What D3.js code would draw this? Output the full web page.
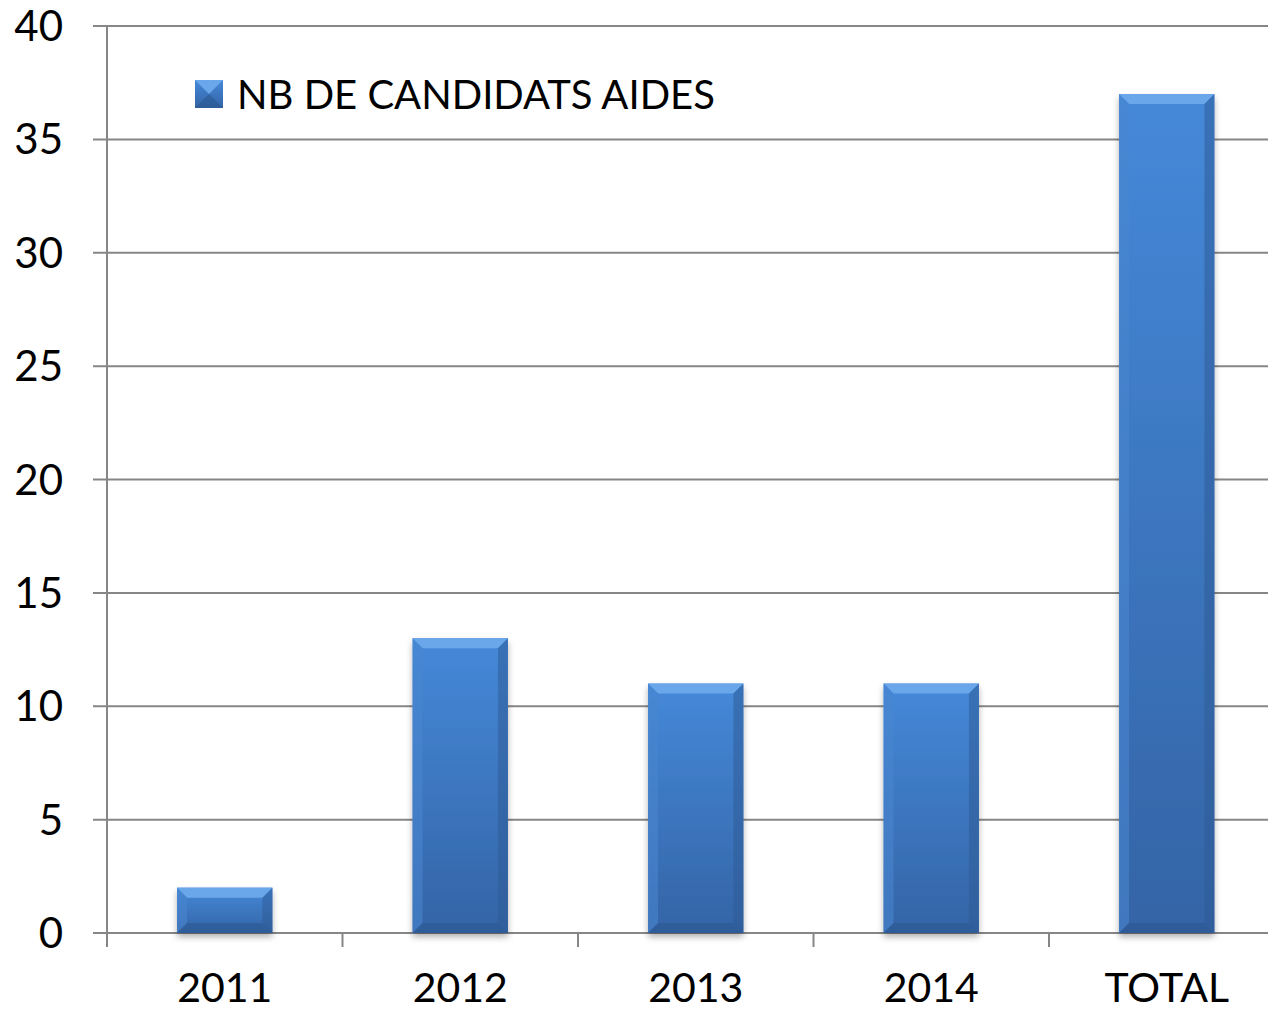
<!DOCTYPE html>
<html>
<head>
<meta charset="utf-8">
<script src="https://cdn.jsdelivr.net/npm/d3@7"></script>
<style>
  body { margin: 0; background: #fff; }
  text { font-family: Lato, "Open Sans", sans-serif; fill: #000; }
</style>
</head>
<body>
<div id="chart"></div>
<script>
const categories = ['2011', '2012', '2013', '2014', 'TOTAL'];
const values = [2, 13, 11, 11, 37];
const yTicks = [0, 5, 10, 15, 20, 25, 30, 35, 40];
const seriesName = 'NB DE CANDIDATS AIDES';

const width = 1268, height = 1013;
const margin = {top: 26, left: 107, bottom: 80};
const plotRight = 1284.5;

const svg = d3.select('#chart').append('svg')
  .attr('width', width)
  .attr('height', height);

const defs = svg.append('defs');

const grad = defs.append('linearGradient')
  .attr('id', 'bar-grad')
  .attr('x1', 0).attr('y1', 0).attr('x2', 0).attr('y2', 1);
grad.append('stop').attr('offset', 0).attr('stop-color', '#4589d9');
grad.append('stop').attr('offset', 1).attr('stop-color', '#3464a6');

const shadow = defs.append('filter').attr('id', 'shadow')
  .attr('x', '-10%').attr('y', '-10%').attr('width', '120%').attr('height', '130%');
shadow.append('feDropShadow')
  .attr('dx', 0).attr('dy', 4).attr('stdDeviation', 3)
  .attr('flood-color', '#000').attr('flood-opacity', 0.3);

const y = d3.scaleLinear()
  .domain([0, 40])
  .range([933, margin.top]);

const x = d3.scaleBand()
  .domain(categories)
  .range([margin.left, plotRight])
  .padding(0);

const barW = x.bandwidth() * 0.405;

// gridlines
svg.append('g')
  .selectAll('line')
  .data(yTicks)
  .join('line')
  .attr('x1', margin.left - 14)
  .attr('x2', width)
  .attr('y1', d => y(d))
  .attr('y2', d => y(d))
  .attr('stroke', '#868686')
  .attr('stroke-width', 2);

// y axis line
svg.append('line')
  .attr('x1', margin.left).attr('x2', margin.left)
  .attr('y1', y(40)).attr('y2', y(0))
  .attr('stroke', '#868686').attr('stroke-width', 2);

// y tick labels
svg.append('g')
  .selectAll('text')
  .data(yTicks)
  .join('text')
  .attr('x', 63)
  .attr('y', d => y(d))
  .attr('dy', '0.36em')
  .attr('text-anchor', 'end')
  .style('font-size', '42px')
  .text(d => d);

// x axis ticks
const xTickPos = categories.map(c => x(c)).concat([x(categories[categories.length - 1]) + x.bandwidth()]);
svg.append('g')
  .selectAll('line')
  .data(xTickPos)
  .join('line')
  .attr('x1', d => d).attr('x2', d => d)
  .attr('y1', y(0)).attr('y2', y(0) + 14)
  .attr('stroke', '#868686').attr('stroke-width', 2);

// x labels
svg.append('g')
  .selectAll('text')
  .data(categories)
  .join('text')
  .attr('x', d => x(d) + x.bandwidth() / 2)
  .attr('y', 1002)
  .attr('text-anchor', 'middle')
  .style('font-size', '41px')
  .text(d => d);

// bars
const bars = svg.append('g')
  .selectAll('g')
  .data(categories.map((c, i) => ({cat: c, value: values[i]})))
  .join('g');

const bx = d => x(d.cat) + (x.bandwidth() - barW) / 2;
const bevel = 10;

bars.append('rect')
  .attr('x', bx)
  .attr('y', d => y(d.value))
  .attr('width', barW)
  .attr('height', d => y(0) - y(d.value))
  .attr('fill', 'url(#bar-grad)')
  .attr('filter', 'url(#shadow)');

// top bevel
bars.append('path')
  .attr('d', d => {
    const x0 = bx(d), x1 = x0 + barW, t = y(d.value);
    return `M${x0},${t}L${x1},${t}L${x1 - bevel},${t + bevel}L${x0 + bevel},${t + bevel}Z`;
  })
  .attr('fill', '#6aa6ea');

// left bevel
bars.append('path')
  .attr('d', d => {
    const x0 = bx(d), t = y(d.value), b = y(0);
    return `M${x0},${t}L${x0 + bevel},${t + bevel}L${x0 + bevel},${b - bevel}L${x0},${b}Z`;
  })
  .attr('fill', '#4a86cf').attr('opacity', 0.6);

// right bevel
bars.append('path')
  .attr('d', d => {
    const x1 = bx(d) + barW, t = y(d.value), b = y(0);
    return `M${x1},${t}L${x1 - bevel},${t + bevel}L${x1 - bevel},${b - bevel}L${x1},${b}Z`;
  })
  .attr('fill', '#2d5a94').attr('opacity', 0.5);

// bottom bevel
bars.append('path')
  .attr('d', d => {
    const x0 = bx(d), x1 = x0 + barW, b = y(0);
    return `M${x0},${b}L${x1},${b}L${x1 - bevel},${b - bevel}L${x0 + bevel},${b - bevel}Z`;
  })
  .attr('fill', '#2c5891').attr('opacity', 0.6);

// legend
const legend = svg.append('g').attr('transform', 'translate(195,80)');
legend.append('rect')
  .attr('width', 28).attr('height', 28)
  .attr('fill', 'url(#bar-grad)');
legend.append('path')
  .attr('d', 'M0,0L28,0L14,14Z')
  .attr('fill', '#6aa6ea');
legend.append('path')
  .attr('d', 'M0,28L28,28L14,14Z')
  .attr('fill', '#2c5891').attr('opacity', 0.6);
legend.append('text')
  .attr('x', 42)
  .attr('y', 29)
  .style('font-size', '40px')
  .text(seriesName);
</script>
</body>
</html>
